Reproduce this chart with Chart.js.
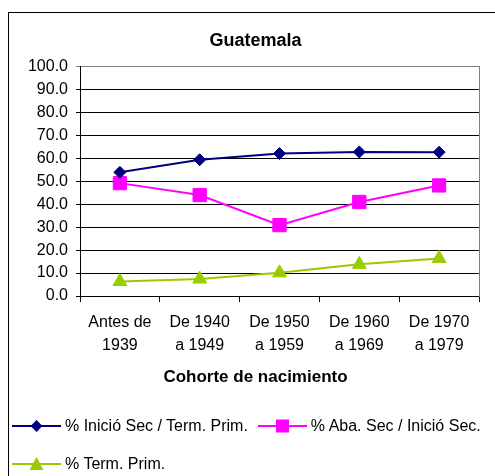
<!DOCTYPE html>
<html>
<head>
<meta charset="utf-8">
<script src="https://cdn.jsdelivr.net/npm/chart.js@4/dist/chart.umd.min.js"></script>
<style>
  html, body { margin: 0; padding: 0; background: #fff; overflow: hidden; }
  body { width: 495px; height: 476px; position: relative; font-family: 'Liberation Sans', Arial, sans-serif; }
  #frame { position: absolute; left: 8px; top: 12px; width: 700px; height: 700px; border: 1px solid #000; box-sizing: border-box; }
  #wrap { position: absolute; left: 0; top: 0; width: 511px; height: 476px; }
  #legend { position: absolute; left: 12px; top: 416px; width: 483px; display: flex; flex-wrap: wrap; column-gap: 10px; row-gap: 18px; }
  .item { display: flex; align-items: center; height: 20px; font-size: 16px; color: #000; white-space: nowrap; }
  .item svg { margin-right: 4px; }
</style>
</head>
<body>
<div id="frame"></div>
<div id="wrap"><canvas id="chart" width="511" height="476"></canvas></div>
<div id="legend"></div>
<script>
// cohortes de nacimiento (eje x)
const categories = [
  ['Antes de', '1939'],
  ['De 1940', 'a 1949'],
  ['De 1950', 'a 1959'],
  ['De 1960', 'a 1969'],
  ['De 1970', 'a 1979'],
];

const seriesNames = ['% Inició Sec / Term. Prim.', '% Aba. Sec / Inició Sec.', '% Term. Prim.'];
const inicioSec = [53.9, 59.4, 62.1, 62.8, 62.7];
const abandonoSec = [49.2, 44.0, 30.9, 41.0, 48.2];
const termPrim = [6.3, 7.4, 10.1, 13.8, 16.4];

const yMin = 0;
const yMax = 100;
const yStep = 10;

const colors = ['#000080', '#ff00ff', '#99cc00'];
const markers = ['rectRot', 'rect', 'triangle'];
const radii = [6, 9.4, 8];

Chart.defaults.font.family = "'Liberation Sans', Arial, sans-serif";
Chart.defaults.color = '#000';

const datasets = [inicioSec, abandonoSec, termPrim].map((values, i) => ({
  label: seriesNames[i],
  data: values,
  borderColor: colors[i],
  backgroundColor: colors[i],
  borderWidth: 2,
  pointStyle: markers[i],
  pointRadius: radii[i],
  pointBorderWidth: 1,
  pointBorderColor: colors[i],
  pointBackgroundColor: colors[i],
  tension: 0,
}));

new Chart(document.getElementById('chart'), {
  type: 'line',
  data: { labels: categories, datasets },
  options: {
    responsive: false,
    animation: false,
    devicePixelRatio: 1,
    layout: { padding: { left: 8, right: 8, top: 12, bottom: 88 } },
    scales: {
      x: {
        offset: true,
        grid: { offset: true, drawOnChartArea: false, color: '#000', tickLength: 6 },
        border: { color: '#000' },
        ticks: { font: { size: 16, lineHeight: 1.45 }, padding: 9, maxRotation: 0, autoSkip: false },
        afterFit: (s) => { s.height = 64.6; },
      },
      y: {
        min: yMin,
        max: yMax,
        ticks: { stepSize: yStep, font: { size: 16 }, padding: 8, callback: (v) => v.toFixed(1) },
        grid: { color: (ctx) => (ctx.tick && ctx.tick.value === yMax ? '#808080' : '#000'), tickLength: 4 },
        border: { color: '#000' },
        afterFit: (s) => { s.width = 72; },
      },
      y2: {
        position: 'right',
        min: yMin,
        max: yMax,
        grid: { display: false },
        ticks: { display: false },
        border: { color: '#808080' },
        afterFit: (s) => { s.width = 24; },
      },
    },
    plugins: {
      legend: { display: false },
      tooltip: { enabled: false },
      title: {
        display: true,
        text: 'Guatemala',
        color: '#000',
        font: { size: 18, weight: 'bold' },
        padding: { top: 18, bottom: 15 },
      },
      subtitle: {
        display: true,
        position: 'bottom',
        text: 'Cohorte de nacimiento',
        color: '#000',
        font: { size: 17, weight: 'bold' },
        padding: { top: 7, bottom: 0 },
      },
    },
  },
});

// leyenda: línea con marcador, como en Excel
function markerSvg(i) {
  const c = colors[i];
  let shape = '';
  if (markers[i] === 'rectRot') shape = `<polygon points="24.5,2 30.5,8 24.5,14 18.5,8" fill="${c}"/>`;
  else if (markers[i] === 'rect') shape = `<rect x="18" y="1.5" width="13" height="13" fill="${c}"/>`;
  else shape = `<polygon points="24.5,1 31.5,14 17.5,14" fill="${c}"/>`;
  return `<svg width="49" height="16"><line x1="0" y1="8" x2="49" y2="8" stroke="${c}" stroke-width="2"/>${shape}</svg>`;
}

document.getElementById('legend').innerHTML = seriesNames
  .map((name, i) => `<div class="item">${markerSvg(i)}<span>${name}</span></div>`)
  .join('');
</script>
</body>
</html>
